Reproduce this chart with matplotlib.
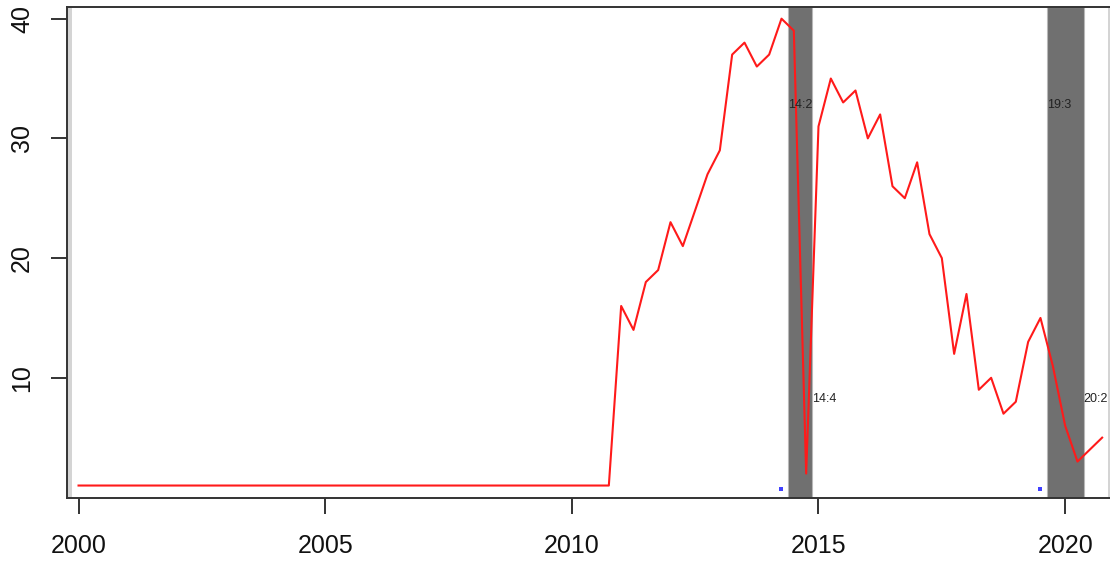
import numpy as np
import matplotlib
matplotlib.use("Agg")
from matplotlib import pyplot as plt

plt.rcParams['font.family'] = ['Liberation Sans', 'DejaVu Sans']

# quarterly series, 2000Q1 .. 2020Q4
start_year = 2000.0
flat_part = [1] * 44
values = flat_part + [16, 14, 18, 19, 23, 21, 24, 27, 29, 37, 38, 36, 37,
                      40, 39, 2, 31, 35, 33, 34, 30, 32, 26, 25, 28, 22, 20,
                      12, 17, 9, 10, 7, 8, 13, 15, 11, 6, 3, 4, 5]
quarters = start_year + np.arange(len(values)) / 4.0

# episodes: start / end quarter and their labels
ep_start = [2014.25, 2019.50]
ep_end = [2014.75, 2020.25]
ep_start_lab = ["14:2", "19:3"]
ep_end_lab = ["14:4", "20:2"]
ep_marker_y = [0.74, 0.74]

# light shaded periods outside the sample
light_bands = [(1999.0, 1999.875), (2020.875, 2022.0)]

x_lim = (1999.76, 2021.2)
y_lim = (0, 41)
px_per_year = 49.33

W, H = 1110, 564
fig = plt.figure(figsize=(W / 100, H / 100), dpi=100)
left_px, top_px, bottom_px = 66.7, 6.7, 497.5
width_px = (x_lim[1] - x_lim[0]) * px_per_year
ax = fig.add_axes([left_px / W, (H - bottom_px) / H,
                   width_px / W, (bottom_px - top_px) / H])

for a, b in light_bands:
    ax.axvspan(a, b, color='#d4d4d4', lw=0, zorder=1)

shift = 0.125
for s, e in zip(ep_start, ep_end):
    ax.axvspan(s + shift, e + shift, facecolor='#707070',
               edgecolor='#b8b8b8', lw=0.8, zorder=1)

ax.plot(quarters, values, color='#ff1a1a', lw=1.5, zorder=3)

for s, e, ls, le, my in zip(ep_start, ep_end, ep_start_lab, ep_end_lab, ep_marker_y):
    ax.text(s + shift, 0.8 * y_lim[1], ls, fontsize=9, color='#222222',
            ha='left', va='center', zorder=4)
    ax.text(e + shift, 0.2 * y_lim[1], le, fontsize=9, color='#222222',
            ha='left', va='center', zorder=4)
    ax.plot([s], [my], marker='s', ms=2.4, color='#4040ff', mew=0, zorder=4)

ax.set_xlim(*x_lim)
ax.set_ylim(*y_lim)
ax.set_xticks([2000, 2005, 2010, 2015, 2020])
ax.set_yticks([10, 20, 30, 40])
ax.tick_params(axis='both', length=11.5, width=1.4, color='#333333',
               labelsize=18, labelcolor='#111111')
ax.tick_params(axis='x', pad=15)
ax.tick_params(axis='y', pad=12)
for lab in ax.get_yticklabels():
    lab.set_rotation(90)
    lab.set_va('center')

for side in ['left', 'bottom', 'top', 'right']:
    ax.spines[side].set_color('#333333')
    ax.spines[side].set_linewidth(1.4)

fig.savefig('out.png', dpi=100)
